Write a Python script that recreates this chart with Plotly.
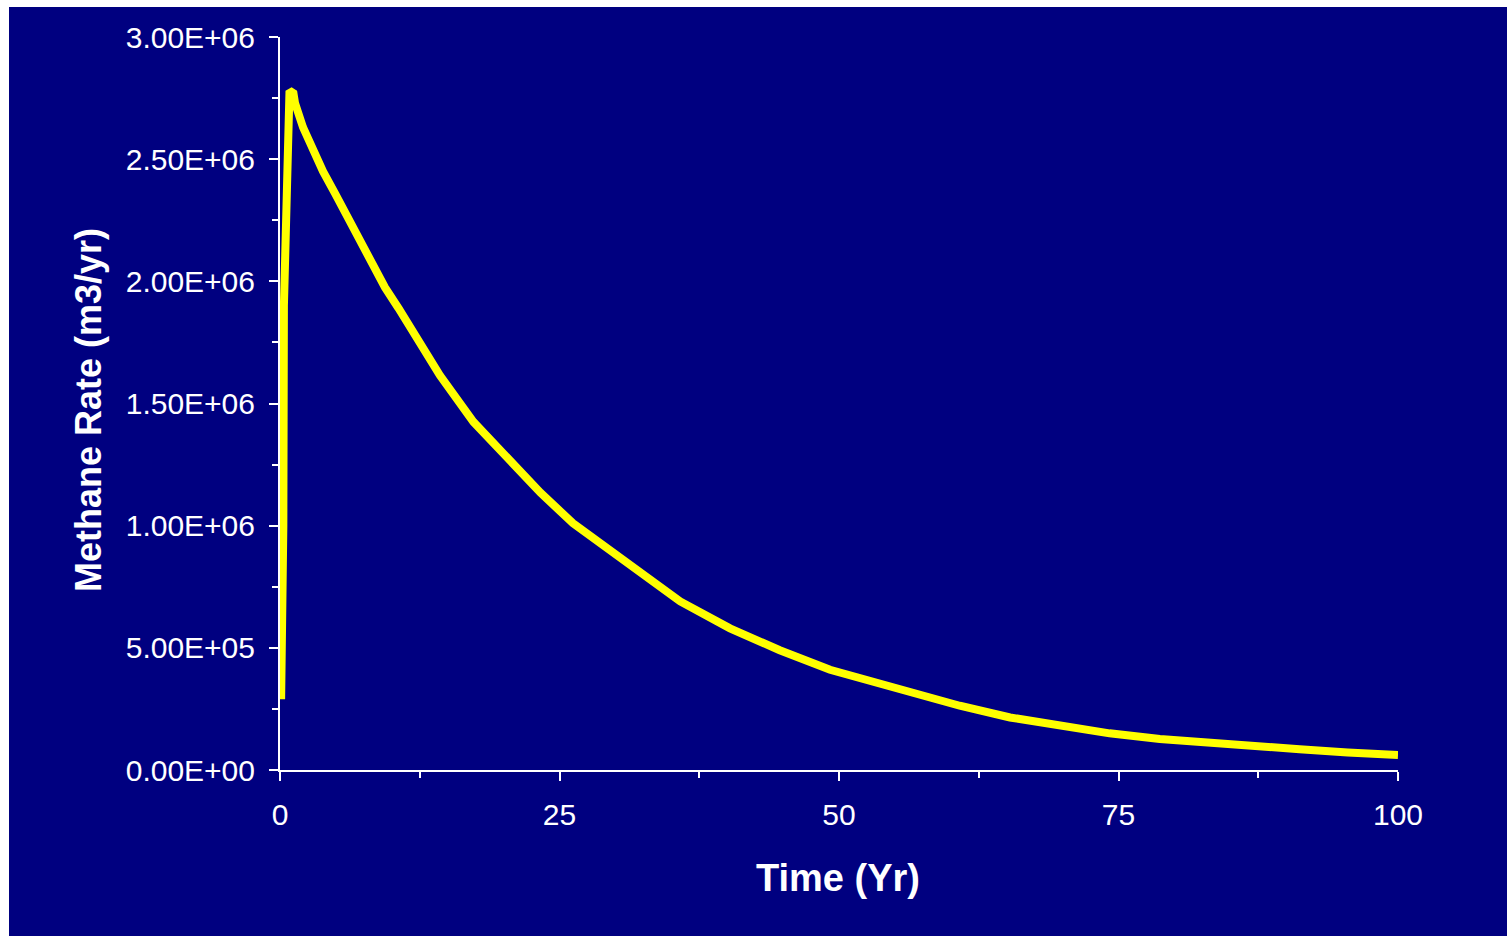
import plotly.graph_objects as go

# Data
time_yr = [0.1, 0.25, 0.3, 0.35, 0.6, 0.7, 0.85, 1.2, 1.34, 2.06, 2.95, 3.85, 4.92,
           5.99, 6.89, 8.05, 9.39, 10.6, 11.8, 14.3, 17.3, 20.3, 23.3, 26.2, 29.2,
           32.2, 35.8, 40.25, 44.7, 49.2, 53.7, 58.1, 60.8, 65.3, 69.8, 74.2, 78.7,
           83.2, 87.7, 91.2, 95.5, 100]
methane_rate = [2.9e5, 6.0e5, 1.0e6, 1.9e6, 2.35e6, 2.5e6, 2.78e6, 2.77e6, 2.73e6,
                2.63e6, 2.53e6, 2.45e6, 2.36e6, 2.265e6, 2.185e6, 2.085e6, 1.975e6,
                1.89e6, 1.805e6, 1.615e6, 1.425e6, 1.275e6, 1.135e6, 1.01e6, 9.1e5,
                8.05e5, 6.9e5, 5.8e5, 4.9e5, 4.1e5, 3.5e5, 2.95e5, 2.63e5, 2.15e5,
                1.78e5, 1.5e5, 1.27e5, 1.1e5, 9.4e4, 8.5e4, 7.2e4, 6.1e4]

x_tick_vals = [0, 25, 50, 75, 100]
x_tick_text = ["0", "25", "50", "75", "100"]
y_tick_vals = [0, 5e5, 1e6, 1.5e6, 2e6, 2.5e6, 3e6]
y_tick_text = ["0.00E+00", "5.00E+05", "1.00E+06", "1.50E+06",
               "2.00E+06", "2.50E+06", "3.00E+06"]

NAVY = "#000080"
W, H = 1507, 936
L, T = 280, 37
pw, ph = 1118, 733
R, B = W - L - pw, H - T - ph

fig = go.Figure()
fig.add_trace(go.Scatter(x=time_yr, y=methane_rate, mode="lines",
                         line=dict(color="#FFFF00", width=8), hoverinfo="x+y"))

font_family = "Liberation Sans, Arial, sans-serif"
fig.update_layout(
    width=W, height=H,
    margin=dict(l=L, r=R, t=T, b=B, pad=0),
    paper_bgcolor="white",
    plot_bgcolor=NAVY,
    showlegend=False,
    font=dict(family=font_family, color="white"),
    xaxis=dict(range=[0, 100], tickmode="array", tickvals=x_tick_vals,
               ticktext=x_tick_text, showgrid=False, zeroline=False,
               showline=True, linecolor="white", linewidth=2,
               ticks="outside", ticklen=9, tickwidth=2, tickcolor="white",
               tickfont=dict(size=30, color="white", family=font_family),
               ticklabelstandoff=8,
               minor=dict(tickmode="linear", tick0=0, dtick=12.5, ticks="outside",
                          ticklen=6, tickwidth=2, tickcolor="white", showgrid=False)),
    yaxis=dict(range=[0, 3e6], tickmode="array", tickvals=y_tick_vals,
               ticktext=y_tick_text, showgrid=False, zeroline=False,
               showline=True, linecolor="white", linewidth=2,
               ticks="outside", ticklen=9, tickwidth=2, tickcolor="white",
               tickfont=dict(size=30, color="white", family=font_family),
               ticklabelstandoff=8,
               minor=dict(tickmode="linear", tick0=0, dtick=250000, ticks="outside",
                          ticklen=6, tickwidth=2, tickcolor="white", showgrid=False)),
    shapes=[dict(type="rect", xref="paper", yref="paper", layer="below",
                 x0=(9 - L) / pw, x1=(W - L + 5) / pw,
                 y0=-(B + 5) / ph, y1=(770 - 7) / ph,
                 fillcolor=NAVY, line=dict(width=0))],
    annotations=[
        dict(text="<b>Time (Yr)</b>", xref="paper", yref="paper",
             x=(838 - 280) / pw, y=(770 - 878) / ph, xanchor="center", yanchor="middle",
             showarrow=False, font=dict(size=38, color="white", family=font_family)),
        dict(text="<b>Methane Rate (m3/yr)</b>", xref="paper", yref="paper",
             x=(88 - 280) / pw, y=(770 - 410) / ph, xanchor="center", yanchor="middle",
             textangle=-90, showarrow=False,
             font=dict(size=36, color="white", family=font_family)),
    ],
)

fig.write_html("out.html",
               config={"displayModeBar": False},
               post_script="document.body.style.margin='0';"
                           "document.documentElement.style.overflow='hidden';"
                           "document.body.style.overflow='hidden';")
